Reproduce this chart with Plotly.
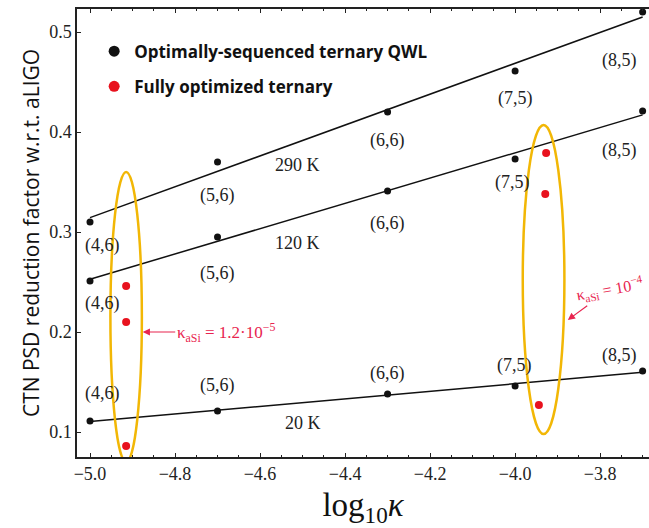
import numpy as np
import plotly.graph_objects as go

# ---- data ----
log_kappa = [-5.0, -4.7, -4.3, -4.0, -3.7]
labels = ["(4,6)", "(5,6)", "(6,6)", "(7,5)", "(8,5)"]
y_290K = [0.31, 0.37, 0.42, 0.461, 0.52]
y_120K = [0.251, 0.295, 0.341, 0.373, 0.421]
y_20K = [0.111, 0.121, 0.138, 0.146, 0.161]
temps = ["290 K", "120 K", "20 K"]

red_x_left = [-4.915, -4.915, -4.915]
red_y_left = [0.246, 0.21, 0.086]
red_x_right = [-3.927, -3.929, -3.944]
red_y_right = [0.379, 0.338, 0.127]

# label pixel offsets (dx, dy; dy positive = downward)
off_290 = [(12, 23), (0, 33), (0, 28), (0, 27), (-23, 48)]
off_120 = [(12, 22), (0, 36), (0, 32), (-3, 23), (-23, 39)]
off_20 = [(12, -28), (0, -26), (0, -21), (-1, -21), (-23, -16)]

# temperature label positions (data coords)
temp_pos = [(-4.513, 0.367), (-4.513, 0.289), (-4.50, 0.109)]

BLACK = "#111111"
RED = "#e8121e"
GOLD = "#f2b705"
PINK = "#e8244f"
SERIF = "Liberation Serif, Times New Roman, serif"
SANS = "Open Sans, Noto Sans, sans-serif"

fig = go.Figure()

series = [y_290K, y_120K, y_20K]
offsets = [off_290, off_120, off_20]
for ys in series:
    coef = np.polyfit(log_kappa, ys, 1)
    fx = [min(log_kappa), max(log_kappa)]
    fig.add_trace(go.Scatter(x=fx, y=list(np.polyval(coef, fx)), mode="lines",
                             line=dict(color=BLACK, width=1.5), showlegend=False,
                             hoverinfo="skip", cliponaxis=False))
    fig.add_trace(go.Scatter(x=log_kappa, y=ys, mode="markers",
                             marker=dict(color=BLACK, size=7), showlegend=False,
                             cliponaxis=False))

fig.add_trace(go.Scatter(x=red_x_left + red_x_right, y=red_y_left + red_y_right,
                         mode="markers", marker=dict(color=RED, size=8),
                         showlegend=False))

# legend entries (dummy traces)
fig.add_trace(go.Scatter(x=[None], y=[None], mode="markers",
                         marker=dict(color=BLACK, size=11),
                         name="Optimally-sequenced ternary QWL", legendgroup="a"))
fig.add_trace(go.Scatter(x=[None], y=[None], mode="markers",
                         marker=dict(color=RED, size=11),
                         name="Fully optimized ternary", legendgroup="b"))

annotations = []
for ys, offs in zip(series, offsets):
    for xv, yv, lab, (dx, dy) in zip(log_kappa, ys, labels, offs):
        annotations.append(dict(x=xv, y=yv, text=lab, showarrow=False,
                                xshift=dx, yshift=-dy,
                                font=dict(family=SERIF, size=18, color="#222")))
for (tx, ty), t in zip(temp_pos, temps):
    annotations.append(dict(x=tx, y=ty, text=t, showarrow=False,
                            font=dict(family=SERIF, size=18, color="#222")))

# red kappa annotations (arrow tip at ellipse, text at tail)
annotations.append(dict(x=-4.876, y=0.2, ax=83, ay=0,
                        text="κ<sub>aSi</sub> = 1.2·10<sup>−5</sup>", showarrow=True,
                        arrowhead=2, arrowsize=1.2, arrowwidth=1.2, arrowcolor=PINK,
                        font=dict(family=SERIF, size=17, color=PINK)))
annotations.append(dict(x=-3.876, y=0.212, ax=42, ay=-31,
                        text="κ<sub>aSi</sub> = 10<sup>−4</sup>", textangle=-10,
                        showarrow=True, arrowhead=2, arrowsize=1.2, arrowwidth=1.2,
                        arrowcolor=PINK,
                        font=dict(family=SERIF, size=16, color=PINK)))

fig.update_layout(
    width=649, height=528,
    margin=dict(l=77, r=0, t=9, b=71),
    paper_bgcolor="white", plot_bgcolor="white",
    annotations=annotations,
    shapes=[
        dict(type="circle", xref="x", yref="y", x0=-4.952, x1=-4.878, y0=0.07, y1=0.36,
             line=dict(color=GOLD, width=2.5), layer="above"),
        dict(type="circle", xref="x", yref="y", x0=-3.982, x1=-3.884, y0=0.098, y1=0.407,
             line=dict(color=GOLD, width=2.5), layer="above"),
    ],
    legend=dict(x=0.03, y=0.945, xanchor="left", yanchor="top",
                bgcolor="rgba(0,0,0,0)", tracegroupgap=10,
                font=dict(family=SANS, size=17, color="#111", weight="bold")),
    xaxis=dict(range=[-5.0306, -3.685], showgrid=False, zeroline=False,
               showline=True, linecolor="#222", linewidth=1.5, mirror="allticks",
               ticks="inside", ticklen=4, tickcolor="#222", dtick=0.2, tick0=-5.0,
               tickformat=".1f", minor=dict(dtick=0.05, ticks="inside", ticklen=2,
                                            tickcolor="#222"),
               tickfont=dict(family=SERIF, size=18, color="#222"),
               title=dict(text="log<sub>10</sub><i>κ</i>",
                          standoff=12,
                          font=dict(family=SERIF, size=33, color="#111"))),
    yaxis=dict(range=[0.075, 0.523], showgrid=False, zeroline=False,
               showline=True, linecolor="#222", linewidth=1.5,
               ticks="inside", ticklen=4, tickcolor="#222", dtick=0.1, tick0=0.1,
               tickformat=".1f",
               tickfont=dict(family=SERIF, size=18, color="#222"),
               title=dict(text="CTN PSD reduction factor w.r.t. aLIGO", standoff=4,
                          font=dict(family=SANS, size=21, color="#111"))),
)

fig.write_html("out.html")
